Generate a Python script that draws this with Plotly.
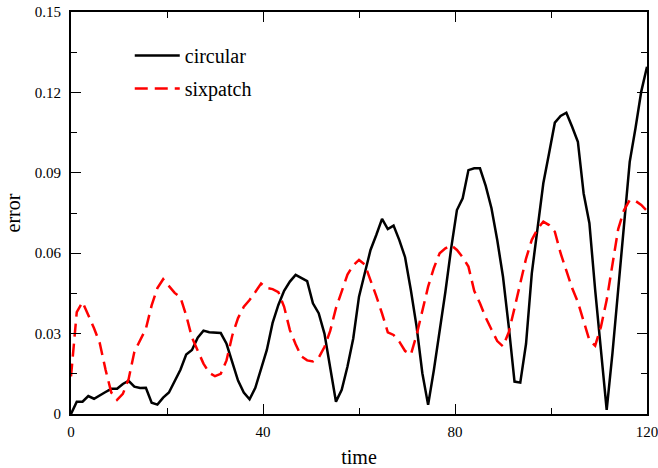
import plotly.graph_objects as go

time = [round(i * 1.2, 1) for i in range(101)]

circular = [
    0.0000, 0.0046, 0.0046, 0.0067, 0.0057, 0.0071, 0.0082, 0.0094, 0.0094, 0.0112,
    0.0124, 0.0102, 0.0097, 0.0098, 0.0042, 0.0035, 0.0061, 0.0080, 0.0125, 0.0165,
    0.0222, 0.0239, 0.0285, 0.0311, 0.0305, 0.0303, 0.0302, 0.0262, 0.0195, 0.0125,
    0.0080, 0.0055, 0.0098, 0.0172, 0.0239, 0.0340, 0.0407, 0.0460, 0.0494, 0.0519,
    0.0508, 0.0496, 0.0413, 0.0376, 0.0300, 0.0177, 0.0046, 0.0090, 0.0177, 0.0282,
    0.0438, 0.0525, 0.0612, 0.0668, 0.0728, 0.0690, 0.0703, 0.0649, 0.0585, 0.0463,
    0.0326, 0.0152, 0.0034, 0.0164, 0.0301, 0.0456, 0.0618, 0.0761, 0.0805, 0.0910,
    0.0917, 0.0917, 0.0851, 0.0768, 0.0649, 0.0512, 0.0326, 0.0121, 0.0117, 0.0262,
    0.0525, 0.0699, 0.0861, 0.0973, 0.1087, 0.1112, 0.1124, 0.1072, 0.1016, 0.0823,
    0.0712, 0.0463, 0.0251, 0.0015, 0.0226, 0.0475, 0.0699, 0.0941, 0.1066, 0.1203,
    0.1296,
]

sixpatch = [
    0.0140, 0.0380, 0.0418, 0.0370, 0.0320, 0.0264, 0.0165, 0.0080, 0.0053, 0.0075,
    0.0130, 0.0232, 0.0276, 0.0318, 0.0405, 0.0470, 0.0503, 0.0478, 0.0452, 0.0435,
    0.0368, 0.0285, 0.0233, 0.0188, 0.0154, 0.0141, 0.0150, 0.0200, 0.0293, 0.0358,
    0.0400, 0.0425, 0.0455, 0.0487, 0.0470, 0.0466, 0.0455, 0.0400, 0.0313, 0.0260,
    0.0215, 0.0200, 0.0196, 0.0210, 0.0250, 0.0310, 0.0395, 0.0462, 0.0520, 0.0555,
    0.0575, 0.0558, 0.0500, 0.0440, 0.0375, 0.0305, 0.0295, 0.0270, 0.0235, 0.0222,
    0.0295, 0.0390, 0.0475, 0.0545, 0.0600, 0.0618, 0.0630, 0.0612, 0.0585, 0.0550,
    0.0460, 0.0413, 0.0360, 0.0315, 0.0272, 0.0252, 0.0305, 0.0395, 0.0490, 0.0580,
    0.0650, 0.0690, 0.0718, 0.0705, 0.0680, 0.0600, 0.0535, 0.0470, 0.0418, 0.0345,
    0.0275, 0.0255, 0.0325, 0.0425, 0.0565, 0.0690, 0.0760, 0.0798, 0.0795, 0.0780,
    0.0758,
]

x_ticks = [0, 40, 80, 120]
y_ticks = [0, 0.03, 0.06, 0.09, 0.12, 0.15]
y_tick_labels = ["0", "0.03", "0.06", "0.09", "0.12", "0.15"]

FONT = "Liberation Serif, Times New Roman, serif"

fig = go.Figure()
fig.add_trace(go.Scatter(
    x=time, y=circular, mode="lines", name="circular", legendgroup="a",
    line=dict(color="black", width=2.5),
))
fig.add_trace(go.Scatter(
    x=time, y=sixpatch, mode="lines", name="sixpatch", legendgroup="b",
    line=dict(color="#ff0000", width=2.5, dash="13px,7px"),
))

axis_common = dict(
    showline=True, linecolor="black", linewidth=2, mirror="allticks",
    ticks="inside", ticklen=10, tickwidth=1.2, tickcolor="black",
    showgrid=False, zeroline=False, ticklabeloverflow="allow",
    tickfont=dict(family=FONT, size=15, color="black"),
)

fig.update_xaxes(
    range=[0, 120], tickvals=x_ticks, ticklabelstandoff=3,
    minor=dict(ticks="inside", ticklen=6, tickwidth=1.2, tickcolor="black", dtick=20, tick0=0),
    title=dict(text="time", font=dict(family=FONT, size=20, color="black"), standoff=12),
    **axis_common,
)
fig.update_yaxes(
    range=[0, 0.15], tickvals=y_ticks, ticktext=y_tick_labels, ticklabelstandoff=5,
    minor=dict(ticks="inside", ticklen=6, tickwidth=1.2, tickcolor="black", dtick=0.015, tick0=0),
    title=dict(text="error", font=dict(family=FONT, size=20, color="black"), standoff=9),
    **axis_common,
)

fig.update_layout(
    width=658, height=468,
    margin=dict(l=71, r=11, t=12, b=54, autoexpand=False),
    paper_bgcolor="white", plot_bgcolor="white",
    showlegend=True,
    legend=dict(
        x=0.102, y=0.94, xanchor="left", yanchor="top",
        font=dict(family=FONT, size=20, color="black"),
        bgcolor="rgba(0,0,0,0)", traceorder="grouped", tracegroupgap=4,
        itemwidth=45,
    ),
)

fig.write_html(
    "out.html",
    config={"displayModeBar": False},
    post_script="document.body.style.margin='0';document.body.style.padding='0';",
)
